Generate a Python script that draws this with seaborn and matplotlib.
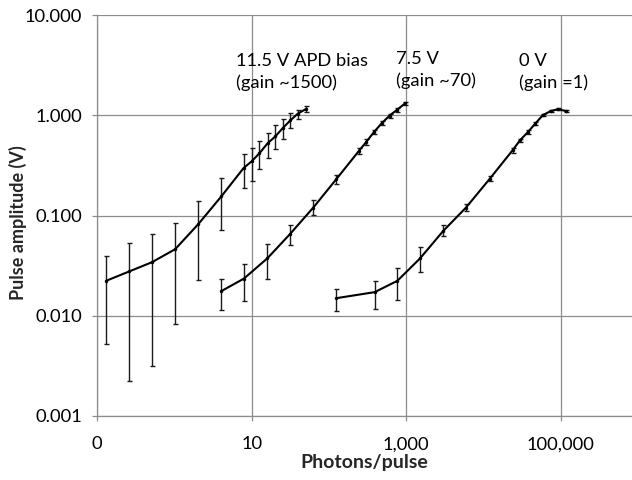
import numpy as np
import pandas as pd
import matplotlib
matplotlib.use("Agg")
import matplotlib.pyplot as plt
import seaborn as sns
from matplotlib.ticker import FixedLocator, FixedFormatter, NullLocator

# ---- data ----
x_115 = [0.13, 0.26, 0.51, 1.02, 2.03, 4.04, 7.9, 10.0, 12.6, 16.1, 20.2, 25.2, 31.6, 39.4, 50.0]
y_115 = [0.0223, 0.0277, 0.0342, 0.0461, 0.0819, 0.155, 0.299, 0.347, 0.418, 0.526, 0.614, 0.743, 0.887, 1.035, 1.15]
lo_115 = [0.0052, 0.00223, 0.00314, 0.0083, 0.0226, 0.0724, 0.19, 0.223, 0.288, 0.372, 0.46, 0.58, 0.74, 0.91, 1.07]
hi_115 = [0.039, 0.0526, 0.065, 0.0838, 0.14, 0.235, 0.41, 0.47, 0.55, 0.67, 0.80, 0.91, 1.06, 1.12, 1.24]

x_75 = [4.04, 7.94, 15.9, 31.3, 62.8, 124, 245, 305, 384, 487, 613, 770, 968]
y_75 = [0.0176, 0.0235, 0.0373, 0.0652, 0.120, 0.229, 0.441, 0.542, 0.681, 0.838, 0.993, 1.14, 1.31]
lo_75 = [0.0114, 0.014, 0.0233, 0.051, 0.1006, 0.204, 0.408, 0.510, 0.643, 0.794, 0.949, 1.08, 1.27]
hi_75 = [0.0235, 0.0327, 0.0518, 0.0813, 0.142, 0.254, 0.476, 0.581, 0.72, 0.877, 1.03, 1.18, 1.36]

x_0 = [124, 392, 770, 1514, 3035, 5970, 12100, 24000, 29900, 37900, 47200, 58800, 74600, 93700, 117800]
y_0 = [0.01496, 0.0172, 0.0223, 0.0373, 0.0703, 0.120, 0.232, 0.448, 0.563, 0.681, 0.826, 1.0, 1.10, 1.15, 1.10]
lo_0 = [0.0112, 0.0116, 0.0143, 0.0272, 0.0622, 0.110, 0.220, 0.425, 0.538, 0.656, 0.80, 0.975, 1.08, 1.13, 1.08]
hi_0 = [0.0185, 0.0223, 0.0297, 0.0487, 0.0807, 0.131, 0.245, 0.469, 0.586, 0.708, 0.85, 1.025, 1.12, 1.17, 1.12]

series_names = ["11.5 V", "7.5 V", "0 V"]
annotations = ["11.5 V APD bias\n(gain ~1500)", "7.5 V\n(gain ~70)", "0 V\n(gain =1)"]
x_ticks = [0.1, 10, 1000, 100000]
x_ticklabels = ["0", "10", "1,000", "100,000"]
y_ticks = [0.001, 0.01, 0.1, 1, 10]
y_ticklabels = ["0.001", "0.010", "0.100", "1.000", "10.000"]

# ---- build table ----
frames = []
for name, xs, ys, lo, hi in [(series_names[0], x_115, y_115, lo_115, hi_115),
                             (series_names[1], x_75, y_75, lo_75, hi_75),
                             (series_names[2], x_0, y_0, lo_0, hi_0)]:
    frames.append(pd.DataFrame({"series": name, "x": xs, "y": ys, "lo": lo, "hi": hi}))
df = pd.concat(frames, ignore_index=True)

sns.set_theme(style="white")
plt.rcParams["font.family"] = ["Lato", "DejaVu Sans"]

fig = plt.figure(figsize=(6.32, 4.80), dpi=100)
L, R, B, T = 97.3 / 632, 1.0, 1 - 416 / 480, 1 - 15 / 480
ax = fig.add_axes([L, B, R - L, T - B])

ax.set_xscale("log")
ax.set_yscale("log")

# error bars
for name in series_names:
    d = df[df["series"] == name]
    yerr = np.vstack([d["y"] - d["lo"], d["hi"] - d["y"]])
    ax.errorbar(d["x"], d["y"], yerr=yerr, fmt="none", ecolor="#1a1a1a",
                elinewidth=1.0, capsize=1.8, capthick=1.0, zorder=3)

sns.lineplot(data=df, x="x", y="y", hue="series", units="series", estimator=None,
             sort=False, palette=["black"] * 3, linewidth=1.5, marker="o",
             markersize=2.5, markeredgewidth=0, legend=False, ax=ax, zorder=4)

ax.set_xlim(0.1, 10 ** (-1 + (632 - 97.3) / 77.2))
ax.set_ylim(0.001, 10)

ax.xaxis.set_major_locator(FixedLocator(x_ticks))
ax.xaxis.set_major_formatter(FixedFormatter(x_ticklabels))
ax.xaxis.set_minor_locator(NullLocator())
ax.yaxis.set_major_locator(FixedLocator(y_ticks))
ax.yaxis.set_major_formatter(FixedFormatter(y_ticklabels))
ax.yaxis.set_minor_locator(NullLocator())

ax.grid(True, which="major", color="#8c8c8c", linewidth=0.9)
ax.set_axisbelow(True)
for s in ["top", "right"]:
    ax.spines[s].set_visible(False)
for s in ["left", "bottom"]:
    ax.spines[s].set_color("#8c8c8c")
    ax.spines[s].set_linewidth(0.9)

ax.tick_params(axis="both", which="major", length=3.6, width=0.9, color="#8c8c8c",
               labelsize=13.2, labelcolor="black", direction="out",
               bottom=True, left=True)
ax.tick_params(axis="x", pad=11)
ax.tick_params(axis="y", pad=7.5)

ax.set_xlabel("Photons/pulse", fontsize=14, fontweight="bold", labelpad=1)
ax.set_ylabel("Pulse amplitude (V)", fontsize=13, fontweight="bold")
ax.yaxis.set_label_coords((27 - 97.3) / (632 - 97.3), (416 - 223) / 401)

# annotations (positions in pixel space of the figure)
ann_pos = [(236 / 632, 1 - 53 / 480), (396 / 632, 1 - 51 / 480), (519 / 632, 1 - 53 / 480)]
for txt, (fx, fy) in zip(annotations, ann_pos):
    fig.text(fx, fy, txt, ha="left", va="top", fontsize=13.2, color="black",
             linespacing=1.4)

fig.savefig("out.png", dpi=100)
